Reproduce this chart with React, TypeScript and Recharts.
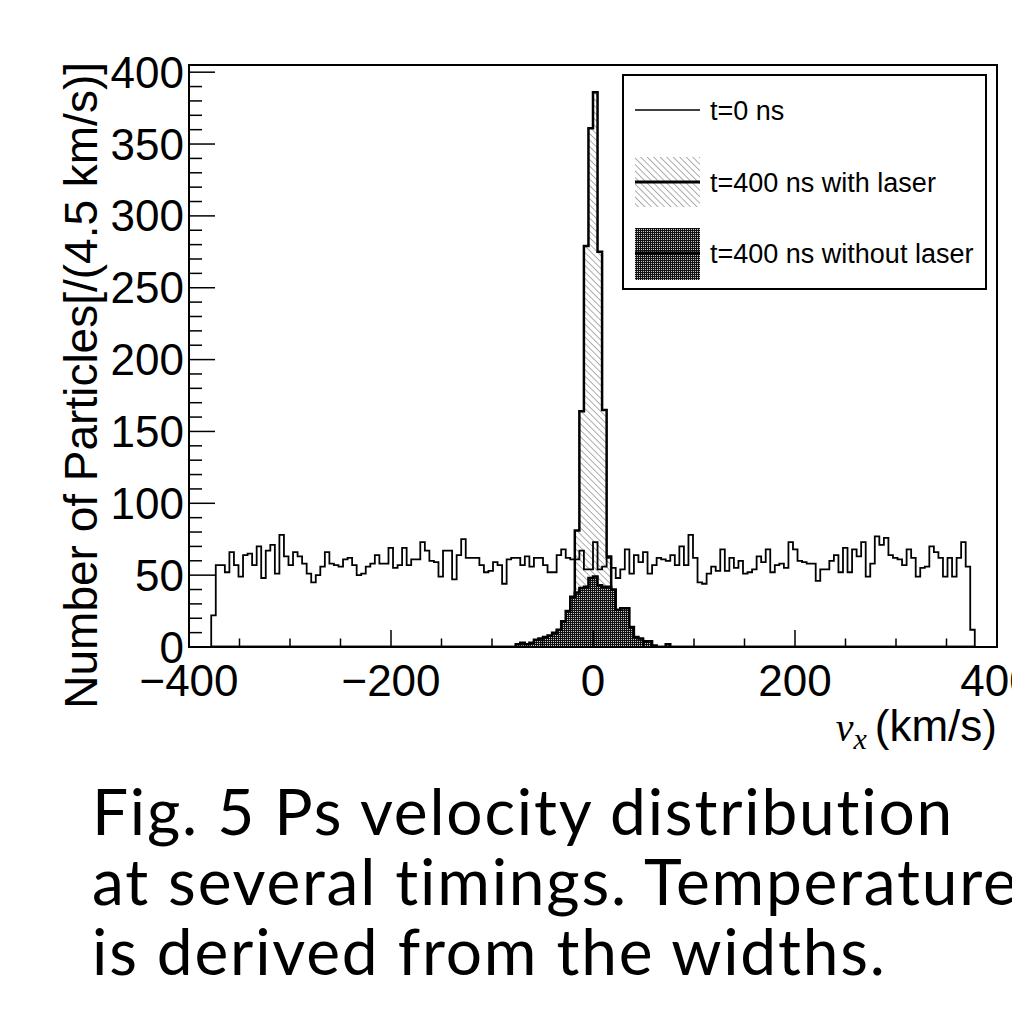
import React from "react"
import { ComposedChart, Area, Line, XAxis, YAxis, ReferenceArea, Legend } from "recharts"

// histogram binning: 168 bins of 4.5 km/s from -378 to +378
const BIN_LOW = -378
const BIN_WIDTH = 4.5

// t = 0 ns, counts per bin
const t0Counts = [
  22, 57, 57, 52, 66, 57, 49, 64, 65, 57,
  70, 48, 67, 71, 51, 78, 63, 57, 66, 63,
  58, 51, 45, 50, 56, 66, 58, 57, 56, 61,
  62, 57, 50, 51, 56, 58, 64, 58, 58, 69,
  55, 57, 69, 57, 61, 61, 73, 67, 60, 59,
  49, 67, 67, 47, 64, 75, 62, 62, 62, 57,
  52, 53, 59, 57, 44, 61, 62, 62, 57, 63,
  56, 62, 62, 57, 52, 52, 64, 68, 62, 61,
  61, 67, 54, 54, 73, 54, 56, 62, 55, 48,
  54, 68, 51, 64, 59, 66, 51, 57, 62, 61,
  60, 64, 57, 70, 57, 78, 62, 45, 44, 51,
  56, 53, 68, 53, 62, 55, 60, 51, 52, 54,
  63, 59, 68, 52, 57, 58, 55, 73, 68, 60,
  59, 58, 58, 46, 54, 54, 60, 64, 52, 69,
  52, 68, 63, 73, 49, 58, 77, 71, 76, 64,
  62, 61, 57, 68, 62, 49, 55, 56, 70, 66,
  62, 49, 62, 49, 62, 73, 56, 12,
]

// t = 400 ns with laser (non-empty bins only, starting at bin 77)
const laserFirstBin = 77
const laserCounts = [3, 10, 30, 81, 164, 279, 361, 386, 275, 165, 63, 25, 8, 3]

// t = 400 ns without laser (non-empty bins only, starting at bin 67)
const noLaserFirstBin = 67
const noLaserCounts = [
  2, 3, 2, 3, 5, 6, 7, 8, 10, 12,
  18, 25, 35, 38, 41, 42, 48, 49, 43, 42,
  42, 40, 26, 27, 27, 14, 7, 6, 4, 4,
  1, 0, 0, 2,
]

const seriesNames = {
  t0: "t=0 ns",
  laser: "t=400 ns with laser",
  noLaser: "t=400 ns without laser",
}

const xLabels = [-400, -200, 0, 200, 400]
const xTicks = [-400, -350, -300, -250, -200, -150, -100, -50, 0, 50, 100, 150, 200, 250, 300, 350, 400]
const yLabels = [0, 50, 100, 150, 200, 250, 300, 350, 400]
const yTicks: number[] = []
for (let v = 0; v <= 400; v += 10) yTicks.push(v)

const pick = (arr: number[], first: number, i: number) => {
  const j = i - first
  return j >= 0 && j < arr.length ? arr[j] : 0
}

const data: Array<{ x: number; t0: number; laser: number; noLaser: number }> = []
data.push({ x: BIN_LOW, t0: 0, laser: 0, noLaser: 0 })
t0Counts.forEach((c, i) => {
  data.push({
    x: BIN_LOW + i * BIN_WIDTH,
    t0: c,
    laser: pick(laserCounts, laserFirstBin, i),
    noLaser: pick(noLaserCounts, noLaserFirstBin, i),
  })
})
data.push({ x: BIN_LOW + t0Counts.length * BIN_WIDTH, t0: 0, laser: 0, noLaser: 0 })

const FONT = "'Liberation Sans', Arial, sans-serif"
const SERIF = "'Liberation Serif', 'Times New Roman', serif"

const fmt = (v: number) => (v < 0 ? "\u2212" + Math.abs(v) : String(v))

function Patterns({ prefix }: { prefix: string }) {
  return (
    <defs>
      <pattern id={prefix + "hatch"} width={4.6} height={4.6} patternUnits="userSpaceOnUse" patternTransform="rotate(-45)">
        <rect width={4.6} height={4.6} fill="#fff" />
        <line x1={0} y1={0} x2={0} y2={4.6} stroke="#6a6a6a" strokeWidth={1.1} />
      </pattern>
      <pattern id={prefix + "dots"} width={2} height={2} patternUnits="userSpaceOnUse">
        <rect width={2} height={2} fill="#111" />
        <rect x={1} y={1} width={1} height={1} fill="#c8c8c8" />
      </pattern>
    </defs>
  )
}

function XTick(props: any) {
  const { x, y, payload } = props
  const major = xLabels.includes(payload.value)
  return (
    <g>
      <line x1={x} x2={x} y1={y} y2={y - (major ? 17 : 8.5)} stroke="#000" strokeWidth={1.5} />
      {major && (
        <text x={x} y={y + 49} textAnchor="middle" fontSize={44} fontFamily={FONT} fill="#000">
          {fmt(payload.value)}
        </text>
      )}
    </g>
  )
}

function YTick(props: any) {
  const { x, y, payload } = props
  const major = yLabels.includes(payload.value)
  return (
    <g>
      <line x1={x} x2={x + (major ? 26 : 13)} y1={y} y2={y} stroke="#000" strokeWidth={1.5} />
      {major && (
        <text x={x - 5} y={y + 15.5} textAnchor="end" fontSize={44} fontFamily={FONT} fill="#000">
          {payload.value}
        </text>
      )}
    </g>
  )
}

const renderXTitle = (props: any) => {
  const vb = props.viewBox
  return (
    <text x={vb.x + vb.width} y={vb.y + 94} textAnchor="end" fontSize={44} fontFamily={FONT} fill="#000">
      <tspan fontFamily={SERIF} fontStyle="italic" fontSize={40}>v</tspan>
      <tspan fontFamily={SERIF} fontStyle="italic" fontSize={30} dy={8}>x</tspan>
      <tspan dy={-8} dx={8}>(km/s)</tspan>
    </text>
  )
}

const renderYTitle = (props: any) => {
  const vb = props.viewBox
  const tx = 97
  const ty = vb.y - 3
  return (
    <text x={tx} y={ty} transform={`rotate(-90 ${tx} ${ty})`} textAnchor="end" fontSize={46} fontFamily={FONT} fill="#000">
      Number of Particles[/(4.5 km/s)]
    </text>
  )
}

const legendOrder = ["t0", "laser", "noLaser"]

const renderLegend = (props: any) => {
  const payload: any[] = props.payload || []
  const items = legendOrder.map((k) => payload.find((p) => p.dataKey === k)).filter(Boolean)
  const rowY = [36, 108, 179]
  return (
    <svg width={365} height={216} style={{ display: "block" }}>
      <Patterns prefix="lg-" />
      <rect x={1} y={1} width={363} height={214} fill="#fff" stroke="#000" strokeWidth={2} />
      {items.map((it: any, i: number) => {
        const cy = rowY[i]
        return (
          <g key={it.dataKey}>
            {it.dataKey === "laser" && <rect x={13} y={cy - 25} width={65} height={50} fill="url(#lg-hatch)" />}
            {it.dataKey === "noLaser" && <rect x={13} y={cy - 25} width={65} height={52} fill="url(#lg-dots)" />}
            <line x1={13} x2={78} y1={cy} y2={cy} stroke="#000" strokeWidth={it.dataKey === "t0" ? 1.5 : 3} />
            <text x={88} y={cy + 10} fontSize={27} fontFamily={FONT} fill="#000">
              {it.value}
            </text>
          </g>
        )
      })}
    </svg>
  )
}

export default function App() {
  return (
    <div
      style={{
        position: "absolute",
        left: 0,
        top: 0,
        width: 1012,
        height: 1018,
        overflow: "hidden",
        background: "#fff",
      }}
    >
      <ComposedChart width={1012} height={760} data={data} margin={{ top: 65, right: 15, bottom: 0, left: 0 }}>
        <Patterns prefix="ch-" />
        <XAxis
          dataKey="x"
          type="number"
          domain={[-400, 400]}
          ticks={xTicks}
          interval={0}
          allowDataOverflow
          axisLine={false}
          tickLine={false}
          tickSize={0}
          tickMargin={0}
          tick={<XTick />}
          height={113}
          label={renderXTitle}
        />
        <YAxis
          type="number"
          domain={[0, 405]}
          ticks={yTicks}
          interval={0}
          allowDataOverflow
          axisLine={false}
          tickLine={false}
          tickSize={0}
          tickMargin={0}
          tick={<YTick />}
          width={189}
          label={renderYTitle}
        />
        <Area
          dataKey="laser"
          name={seriesNames.laser}
          type="stepAfter"
          stroke="#000"
          strokeWidth={2.5}
          fill="url(#ch-hatch)"
          fillOpacity={1}
          isAnimationActive={false}
          activeDot={false}
        />
        <Area
          dataKey="noLaser"
          name={seriesNames.noLaser}
          type="stepAfter"
          stroke="#000"
          strokeWidth={2.5}
          fill="url(#ch-dots)"
          fillOpacity={1}
          isAnimationActive={false}
          activeDot={false}
        />
        <Line
          dataKey="t0"
          name={seriesNames.t0}
          type="stepAfter"
          stroke="#000"
          strokeWidth={1.8}
          dot={false}
          activeDot={false}
          isAnimationActive={false}
        />
        <ReferenceArea x1={-400} x2={400} y1={0} y2={405} fill="none" fillOpacity={0} stroke="#000" strokeWidth={2} />
        <Legend
          layout="vertical"
          align="center"
          verticalAlign="middle"
          wrapperStyle={{ left: 622, top: 74, width: 365, height: 216 }}
          content={renderLegend}
        />
      </ComposedChart>
      <div
        style={{
          position: "absolute",
          left: 92,
          top: 776,
          fontFamily: "Lato, 'Noto Sans', sans-serif",
          fontSize: 64,
          letterSpacing: 1.8,
          fontVariantLigatures: "none",
          lineHeight: "70px",
          whiteSpace: "nowrap",
          color: "#000",
        }}
      >
        Fig. 5 Ps velocity distribution
        <br />
        at several timings. Temperature
        <br />
        is derived from the widths.
      </div>
    </div>
  )
}
